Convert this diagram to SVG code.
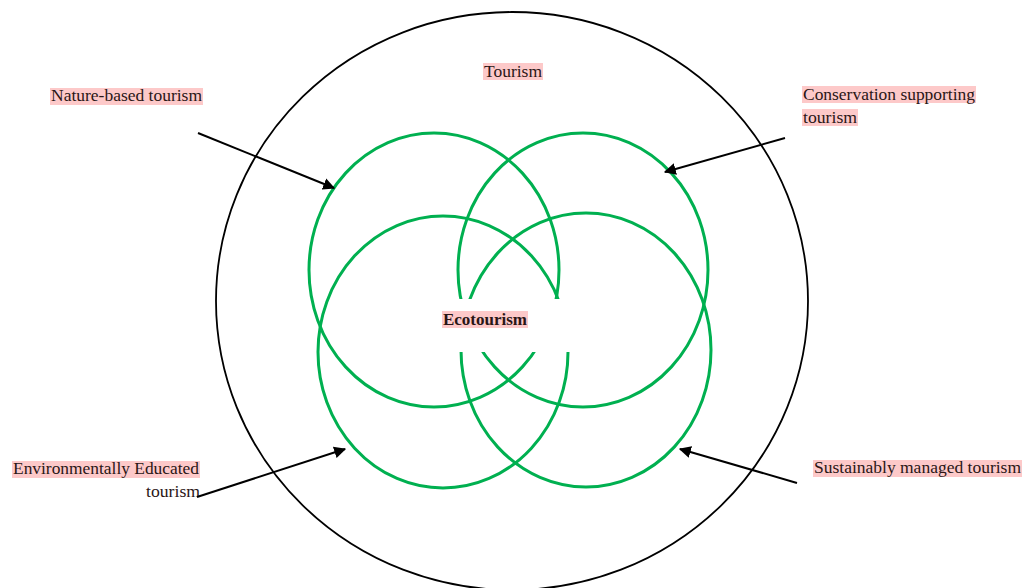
<svg xmlns="http://www.w3.org/2000/svg" width="1023" height="588" viewBox="0 0 1023 588">
<style>
.lbl{font-family:"Liberation Serif","Times New Roman",serif;font-size:16px;fill:#2a1616}
.bg{fill:#fdc9c9}
.g{fill:none;stroke:#00b050;stroke-width:3}
.c{stroke:#000;stroke-width:2;fill:none}
</style>
<defs>
<marker id="ah" viewBox="0 0 10 10" refX="9" refY="5" markerWidth="6" markerHeight="6" markerUnits="strokeWidth" orient="auto">
<path d="M0,0 L10,5 L0,10 z" fill="#000"/>
</marker>
<mask id="gap">
<rect x="0" y="0" width="1023" height="588" fill="#fff"/>
<rect x="450" y="299" width="130" height="53" fill="#000"/>
</mask>
</defs>
<rect width="1023" height="588" fill="#fff"/>
<g id="tourism">
<ellipse cx="512" cy="301" rx="296" ry="289" fill="none" stroke="#000" stroke-width="1.8"/>
<rect class="bg" x="483" y="63" width="60" height="17"/>
<text class="lbl" x="484" y="77" textLength="58" lengthAdjust="spacingAndGlyphs">Tourism</text>
</g>
<g id="circles" mask="url(#gap)">
<ellipse id="nature" class="g" cx="434" cy="270" rx="125" ry="137"/>
<ellipse id="conservation" class="g" cx="583" cy="270" rx="125" ry="137"/>
<ellipse id="educated" class="g" cx="443" cy="352" rx="125" ry="136"/>
<ellipse id="sustainable" class="g" cx="586" cy="350" rx="125" ry="137"/>
</g>
<g id="ecotourism">
<rect class="bg" x="442" y="311" width="86" height="17"/>
<text class="lbl" x="443" y="325" font-weight="bold" textLength="84" lengthAdjust="spacingAndGlyphs">Ecotourism</text>
</g>
<g id="label-nature">
<rect class="bg" x="50" y="88" width="153" height="17"/>
<text class="lbl" x="51" y="101" textLength="151" lengthAdjust="spacingAndGlyphs">Nature-based tourism</text>
</g>
<g id="label-conservation">
<rect class="bg" x="802" y="86" width="174" height="17"/>
<text class="lbl" x="803" y="100" textLength="172" lengthAdjust="spacingAndGlyphs">Conservation supporting</text>
<rect class="bg" x="802" y="109" width="56" height="17"/>
<text class="lbl" x="803" y="123" textLength="54" lengthAdjust="spacingAndGlyphs">tourism</text>
</g>
<g id="label-educated">
<rect class="bg" x="12" y="461" width="188" height="17"/>
<text class="lbl" x="13" y="474" textLength="186" lengthAdjust="spacingAndGlyphs">Environmentally Educated</text>
<text class="lbl" x="146" y="497" textLength="54" lengthAdjust="spacingAndGlyphs">tourism</text>
</g>
<g id="label-sustainable">
<rect class="bg" x="813" y="460" width="209" height="17"/>
<text class="lbl" x="814" y="473" textLength="207" lengthAdjust="spacingAndGlyphs">Sustainably managed tourism</text>
</g>
<g id="connectors">
<line class="c" x1="198" y1="133" x2="334" y2="188" marker-end="url(#ah)"/>
<line class="c" x1="785" y1="138" x2="665" y2="172" marker-end="url(#ah)"/>
<line class="c" x1="197" y1="497" x2="345" y2="449" marker-end="url(#ah)"/>
<line class="c" x1="797" y1="483" x2="680" y2="449" marker-end="url(#ah)"/>
</g>
</svg>
